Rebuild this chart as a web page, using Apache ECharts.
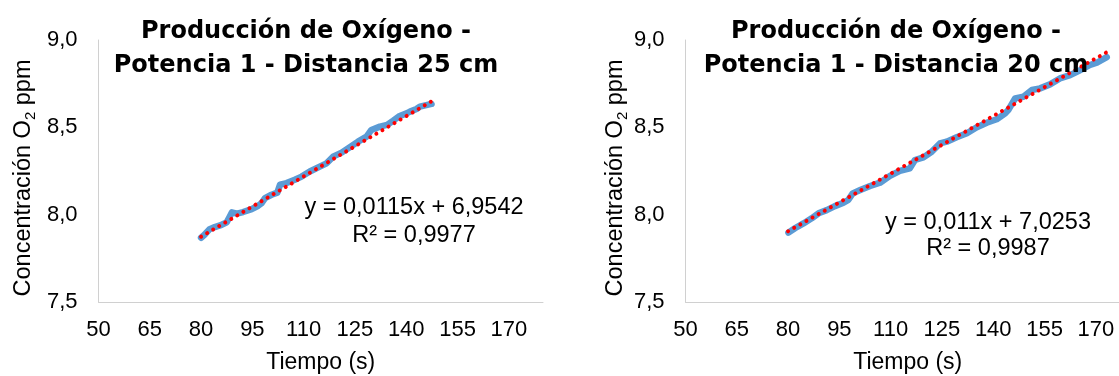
<!DOCTYPE html>
<html>
<head>
<meta charset="utf-8">
<script src="https://cdn.jsdelivr.net/npm/echarts@6/dist/echarts.min.js"></script>
<style>
html,body{margin:0;padding:0;background:#fff;}
#c{width:1119px;height:376px;}
</style>
</head>
<body>
<div id="c"></div>
<script>
// ---- Data ----
const titleA = 'Producción de Oxígeno -\nPotencia 1 - Distancia 25 cm';
const titleB = 'Producción de Oxígeno -\nPotencia 1 - Distancia 20 cm';
const eqA = 'y = 0,0115x + 6,9542\nR² = 0,9977';
const eqB = 'y = 0,011x + 7,0253\nR² = 0,9987';
const xName = 'Tiempo (s)';

const timeA = [80.0, 81.0, 82.5, 84.0, 86.0, 87.5, 88.4, 89.0, 90.5, 92.3, 94.8, 96.7, 97.7, 98.7, 100.6, 102.3, 103.1, 105.0, 107.4, 109.4, 111.8, 114.7, 116.7, 118.6, 121.1, 123.5, 125.9, 128.4, 129.8, 132.3, 134.4, 136.2, 138.1, 140.1, 141.1, 143.0, 144.0, 147.4];
const o2A = [7.868, 7.885, 7.917, 7.929, 7.942, 7.956, 7.990, 8.013, 8.006, 8.015, 8.032, 8.051, 8.066, 8.095, 8.114, 8.126, 8.172, 8.181, 8.200, 8.218, 8.247, 8.275, 8.294, 8.332, 8.355, 8.386, 8.418, 8.447, 8.485, 8.504, 8.514, 8.538, 8.565, 8.580, 8.590, 8.605, 8.619, 8.634];
const trendTimeA = [80, 147.4];
const trendO2A = [7.874, 8.649];

const timeB = [80.1, 82.0, 84.5, 86.9, 88.9, 91.3, 93.7, 96.2, 97.6, 98.9, 101.1, 104.0, 106.9, 109.8, 112.7, 115.6, 117.1, 119.6, 122.0, 124.4, 126.4, 129.3, 132.3, 135.2, 138.1, 141.0, 143.5, 144.4, 146.4, 148.8, 151.3, 153.7, 156.6, 159.5, 162.5, 164.9, 168.3, 170.3, 173.2];
const o2B = [7.897, 7.922, 7.950, 7.979, 8.008, 8.026, 8.049, 8.068, 8.084, 8.122, 8.141, 8.164, 8.183, 8.222, 8.251, 8.265, 8.313, 8.328, 8.360, 8.408, 8.418, 8.443, 8.466, 8.500, 8.526, 8.546, 8.580, 8.599, 8.666, 8.675, 8.714, 8.723, 8.746, 8.780, 8.799, 8.822, 8.857, 8.870, 8.902];
const trendTimeB = [80, 173.2];
const trendO2B = [7.905, 8.930];

const xMin = 50, xMax = 180, xStep = 15;
const yMin = 7.5, yMax = 9.0, yStep = 0.5;

// ---- Build ----
const zip = (a, b) => a.map((v, i) => [v, b[i]]);
const FONT = 'Liberation Sans, Arial, sans-serif';
const axisColor = '#D0D0D0';

function xAxis(gi) {
  return {
    type: 'value', gridIndex: gi, min: xMin, max: xMax, interval: xStep,
    name: xName, nameLocation: 'middle', nameGap: 49,
    nameTextStyle: {fontFamily: FONT, fontSize: 23, color: '#000'},
    axisLine: {show: true, lineStyle: {color: axisColor, width: 1}},
    axisTick: {show: false}, splitLine: {show: false},
    axisLabel: {fontFamily: FONT, fontSize: 22, color: '#000', margin: 17, showMaxLabel: false}
  };
}
function yAxis(gi, gap) {
  return {
    type: 'value', gridIndex: gi, min: yMin, max: yMax, interval: yStep,
    name: '{a|Concentración O}{b|2}{a| ppm}', nameLocation: 'middle', nameGap: gap,
    nameTextStyle: {
      padding: [0, 14, 0, 0],
      rich: {
        a: {fontFamily: FONT, fontSize: 23.5, color: '#000', verticalAlign: 'top', lineHeight: 23},
        b: {fontFamily: FONT, fontSize: 15, color: '#000', verticalAlign: 'top', lineHeight: 15, padding: [12, 0, 0, 0]}
      }
    },
    axisLine: {show: true, lineStyle: {color: axisColor, width: 1}},
    axisTick: {show: false}, splitLine: {show: false},
    axisLabel: {fontFamily: FONT, fontSize: 22, color: '#000', margin: 21,
      formatter: v => v.toFixed(1).replace('.', ',')}
  };
}
function dataSeries(xi, t, v) {
  return {
    type: 'line', xAxisIndex: xi, yAxisIndex: xi, data: zip(t, v),
    showSymbol: false, symbol: 'none', smooth: false,
    lineStyle: {color: '#5B9BD5', width: 6.5, join: 'round', cap: 'round'},
    z: 2, silent: true, animation: false
  };
}
function trendSeries(xi, t, v) {
  return {
    type: 'line', xAxisIndex: xi, yAxisIndex: xi, data: zip(t, v),
    showSymbol: false, symbol: 'none',
    lineStyle: {color: '#FF0000', width: 4, type: [0.01, 7], cap: 'round'},
    z: 3, silent: true, animation: false
  };
}

const TITLE_FONT = 'DejaVu Sans, sans-serif';
const option = {
  animation: false,
  backgroundColor: '#fff',
  title: [
    {text: titleA, left: 306, top: 15, textAlign: 'center', padding: 0,
     textStyle: {fontFamily: TITLE_FONT, fontWeight: 'bold', fontSize: 24, lineHeight: 34, color: '#000'}},
    {text: titleB, left: 896, top: 15, textAlign: 'center', padding: 0,
     textStyle: {fontFamily: TITLE_FONT, fontWeight: 'bold', fontSize: 24, lineHeight: 34, color: '#000'}}
  ],
  grid: [
    {left: 98.5, top: 40, width: 444.5, height: 262, containLabel: false, outerBoundsMode: 'none'},
    {left: 685.5, top: 40, width: 444.5, height: 262, containLabel: false, outerBoundsMode: 'none'}
  ],
  xAxis: [xAxis(0), xAxis(1)],
  yAxis: [yAxis(0, 64), yAxis(1, 58)],
  series: [
    dataSeries(0, timeA, o2A), trendSeries(0, trendTimeA, trendO2A),
    dataSeries(1, timeB, o2B), trendSeries(1, trendTimeB, trendO2B)
  ],
  graphic: [
    {type: 'text', x: 414, y: 194, z: 10,
     style: {text: eqA, fontFamily: FONT, fontSize: 23.5, lineHeight: 27.5, fill: '#000', align: 'center', verticalAlign: 'top'}},
    {type: 'text', x: 988, y: 209, z: 10,
     style: {text: eqB, fontFamily: FONT, fontSize: 23.5, lineHeight: 26.5, fill: '#000', align: 'center', verticalAlign: 'top'}}
  ]
};
const chart = echarts.init(document.getElementById('c'), null, {renderer: 'canvas'});
chart.setOption(option);
</script>
</body>
</html>
